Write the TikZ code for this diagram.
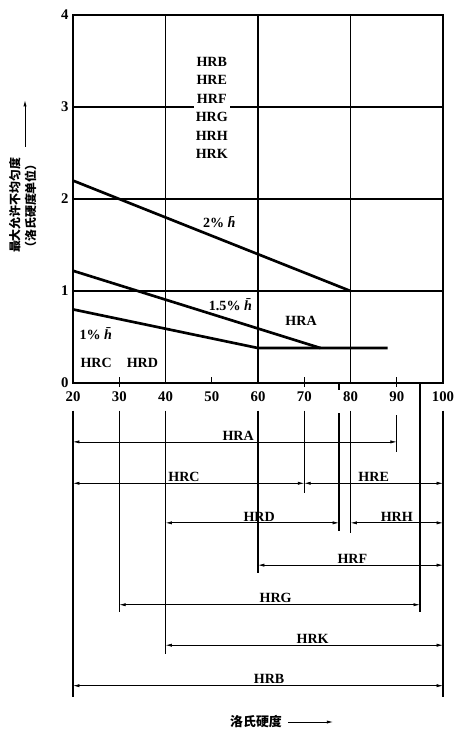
\documentclass[tikz,border=0pt]{standalone}
\usepackage{amsmath}
\usepackage{fontspec}
\setmainfont{Liberation Serif}
\newfontfamily\cjk{Noto Sans CJK SC}
\usepackage{tikz}
\usetikzlibrary{arrows.meta}
\tikzset{>={Latex[length=1.6mm,width=0.8mm]}}
\tikzstyle{gridline} = [line width=1pt]
\tikzstyle{hcurve} = [line width=1.9pt]
\tikzstyle{bound} = [line width=0.9pt]
\tikzstyle{scalerange} = [<->, line width=0.5pt]
\tikzstyle{lbl} = [font=\bfseries\fontsize{10}{12}\selectfont, inner sep=1pt]
\tikzstyle{num} = [font=\bfseries\fontsize{10.5}{12}\selectfont, inner sep=0pt]

\begin{document}
\begin{tikzpicture}
\useasboundingbox (0,0) rectangle (11.375,-18.225);
\begin{scope}[x=0.115625cm, y=2.3cm, shift={(-0.4875cm,-9.575cm)}]
    %frame and grid
    \draw[gridline] (20,0) rectangle (100,4);
    \draw[gridline] (40,0) -- (40,4);
    \draw[gridline] (60,0) -- (60,4);
    \draw[gridline] (80,0) -- (80,4);
    \draw[gridline] (20,1) -- (100,1);
    \draw[gridline] (20,2) -- (100,2);
    \draw[gridline] (20,3) -- (100,3);
    %ticks
    \draw[gridline] (30,0.06) -- (30,-0.04);
    \draw[gridline] (50,0.06) -- (50,0);
    \draw[gridline] (70,0.06) -- (70,-0.04);
    \draw[gridline] (90,0.06) -- (90,-0.04);
    \draw[gridline] (77.5,0) -- (77.5,-0.08);
    %curves
    \draw[hcurve] (20,2.2) -- (80,1);
    \draw[hcurve] (20,1.22) -- (73.5,0.38);
    \draw[hcurve] (20,0.8) -- (60,0.38) -- (88,0.38);
    %labels in the chart
    \node[lbl, fill=white, inner sep=1.5pt, align=center,
        font=\bfseries\fontsize{10}{13.2}\selectfont] (scales) at (50,2.99)
        {HRB\\HRE\\HRF\\HRG\\HRH\\HRK};
    \node[lbl] (p2) at (52,1.75) {2\% \textit{\=h}};
    \node[lbl] (p15) at (54.4,0.85) {1.5\% \textit{\=h}};
    \node[lbl] (p1) at (25.3,0.54) {1\% \textit{\=h}};
    \node[lbl] (hra0) at (69.3,0.68) {HRA};
    \node[lbl] (hrc0) at (25,0.22) {HRC};
    \node[lbl] (hrd0) at (35,0.22) {HRD};
    %axis numbers
    \node[num, anchor=east] (y0) at (19.1,0) {0};
    \node[num, anchor=east] (y1) at (19.1,1) {1};
    \node[num, anchor=east] (y2) at (19.1,2) {2};
    \node[num, anchor=east] (y3) at (19.1,3) {3};
    \node[num, anchor=east] (y4) at (19.1,4) {4};
    \node[num, anchor=north] (x20) at (20,-0.09) {20};
    \node[num, anchor=north] (x30) at (30,-0.09) {30};
    \node[num, anchor=north] (x40) at (40,-0.09) {40};
    \node[num, anchor=north] (x50) at (50,-0.09) {50};
    \node[num, anchor=north] (x60) at (60,-0.09) {60};
    \node[num, anchor=north] (x70) at (70,-0.09) {70};
    \node[num, anchor=north] (x80) at (80,-0.09) {80};
    \node[num, anchor=north] (x90) at (90,-0.09) {90};
    \node[num, anchor=north] (x100) at (100,-0.09) {100};
    %bounds of the scales
    \draw[bound] (20,-0.3) -- (20,-3.41);
    \draw[bound] (30,-0.3) -- (30,-2.49);
    \draw[bound] (40,-0.3) -- (40,-2.95);
    \draw[bound] (60,-0.3) -- (60,-2.07);
    \draw[bound] (70,-0.3) -- (70,-1.2);
    \draw[bound] (77.5,-0.33) -- (77.5,-1.61);
    \draw[bound] (80,-0.3) -- (80,-1.63);
    \draw[bound] (90,-0.35) -- (90,-0.75);
    \draw[bound] (95,0) -- (95,-2.49);
    \draw[bound] (100,-0.3) -- (100,-3.41);
    %scale ranges
    \coordinate (a1) at (20,-0.64);
    \coordinate (a2) at (90,-0.64);
    \coordinate (c1) at (20,-1.09);
    \coordinate (c2) at (70,-1.09);
    \coordinate (e1) at (70,-1.09);
    \coordinate (e2) at (100,-1.09);
    \coordinate (d1) at (40,-1.52);
    \coordinate (d2) at (77.5,-1.52);
    \coordinate (h1) at (80,-1.52);
    \coordinate (h2) at (100,-1.52);
    \coordinate (f1) at (60,-1.98);
    \coordinate (f2) at (100,-1.98);
    \coordinate (g1) at (30,-2.41);
    \coordinate (g2) at (95,-2.41);
    \coordinate (k1) at (40,-2.85);
    \coordinate (k2) at (100,-2.85);
    \coordinate (b1) at (20,-3.29);
    \coordinate (b2) at (100,-3.29);
    \draw[scalerange] (a1) -- node[lbl, above, pos=0.51] (hra) {HRA} (a2);
    \draw[scalerange] (c1) -- node[lbl, above, pos=0.48] (hrc) {HRC} (c2);
    \draw[scalerange] (e1) -- node[lbl, above, pos=0.5] (hre) {HRE} (e2);
    \draw[scalerange] (d1) -- node[lbl, above, pos=0.54] (hrd) {HRD} (d2);
    \draw[scalerange] (h1) -- node[lbl, above, pos=0.5] (hrh) {HRH} (h2);
    \draw[scalerange] (f1) -- node[lbl, above, pos=0.51] (hrf) {HRF} (f2);
    \draw[scalerange] (g1) -- node[lbl, above, pos=0.52] (hrg) {HRG} (g2);
    \draw[scalerange] (k1) -- node[lbl, above, pos=0.53] (hrk) {HRK} (k2);
    \draw[scalerange] (b1) -- node[lbl, above, pos=0.53] (hrb) {HRB} (b2);
\end{scope}
%axis titles
\node[rotate=90, font=\cjk\bfseries\fontsize{8.5}{10}\selectfont, inner sep=0pt] (ytitle) at (0.37,-5.13) {最大允许不均匀度};
\node[rotate=90, font=\cjk\bfseries\fontsize{8.5}{10}\selectfont, inner sep=0pt] (yunit) at (0.76,-5.15) {（洛氏硬度单位）};
\coordinate (ya1) at (0.625,-3.675);
\coordinate (ya2) at (0.625,-2.5);
\draw[->, line width=0.6pt] (ya1) -- (ya2);
\node[font=\cjk\bfseries\fontsize{9.2}{11}\selectfont, inner sep=0pt] (xtitle) at (6.4,-18.05) {洛氏硬度};
\coordinate (xa1) at (7.2,-18.05);
\coordinate (xa2) at (8.33,-18.05);
\draw[->, line width=0.6pt] (xa1) -- (xa2);
\end{tikzpicture}
\end{document}
